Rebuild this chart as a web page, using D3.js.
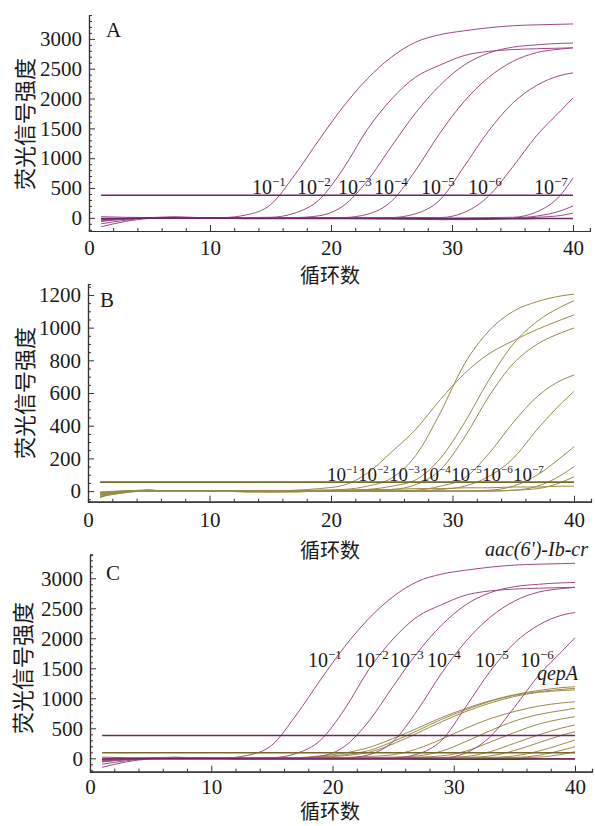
<!DOCTYPE html>
<html><head><meta charset="utf-8">
<script src="https://cdn.jsdelivr.net/npm/d3@7"></script>
<style>body{margin:0;background:#fff}svg{display:block}</style>
</head><body>
<svg id="chart" width="595" height="826"></svg>
<script>
// ---------- DATA ----------
const cycles = [1,3,5,7,9,11,13,15,17,19,21,23,25,27,29,31,33,35,37,39,40];
const xMajorTicks = [0,10,20,30,40];
const xMinorTicks = [2,4,6,8,12,14,16,18,22,24,26,28,32,34,36,38];
const yTicksAC = [0,500,1000,1500,2000,2500,3000];
const yTicksB = [0,200,400,600,800,1000,1200];
const labelsA = ["1","2","3","4","5","6","7"];
const labelsB = ["1","2","3","4","5","6","7"];
const labelsC = ["1","2","3","4","5","6"];
const yTitle = "荧光信号强度";
const xTitle = "循环数";
const geneC1 = "aac(6')-Ib-cr";
const geneC2 = "qepA";

// purple (aac(6')-Ib-cr) curves, dilutions 10^-1 .. 10^-7
const purple1 = [-30,-10,0,5,5,5,50,220,720,1305,1860,2330,2695,2945,3070,3135,3185,3220,3235,3245,3250];
const purple2 = [-60,-20,0,0,0,0,5,10,80,300,820,1480,1990,2360,2560,2720,2790,2820,2835,2845,2850];
const purple3 = [-100,-40,-5,0,0,0,0,0,5,35,200,620,1200,1760,2220,2560,2760,2860,2900,2925,2930];
const purple4 = [-150,-60,-10,0,0,0,0,0,0,0,5,60,280,800,1420,1950,2350,2620,2770,2830,2850];
const purple5 = [20,10,5,20,5,0,0,0,0,0,0,0,5,70,300,860,1450,1920,2220,2390,2430];
const purple6 = [-40,-20,0,0,0,0,0,0,0,0,0,0,0,5,5,90,360,850,1380,1800,2010];
const purple7 = [-20,-10,0,5,0,0,0,0,0,0,0,0,0,0,0,0,5,10,100,390,670];
const purpleLate1 = [-50,-20,0,0,0,0,0,0,0,-5,-10,-10,-10,-15,-20,-20,-15,0,30,120,200];
const purpleLate2 = [-30,-10,0,0,0,0,0,0,-5,-5,-10,-15,-20,-25,-30,-30,-25,-10,10,40,80];
const purpleBase = [-10,-10,-5,-5,-5,-5,-10,-10,-10,-10,-10,-10,-10,-10,-15,-15,-15,-15,-10,-10,-10];
const purpleThreshold = 380;

// olive curves, panel B
const oliveB1 = [-40,0,5,0,0,0,0,0,5,15,35,110,240,380,560,720,840,920,990,1050,1078];
const oliveB2 = [-30,-10,5,0,0,0,0,0,0,5,10,30,80,220,480,780,980,1100,1160,1195,1205];
const oliveB3 = [-20,-5,5,0,0,0,0,0,0,0,5,10,30,70,200,420,680,900,1040,1130,1165];
const oliveB4 = [-10,0,5,0,0,0,0,0,0,0,0,5,10,40,130,330,580,780,900,970,998];
const oliveB5 = [-25,-5,5,0,0,0,-5,-5,0,0,0,0,0,5,30,80,230,420,580,680,710];
const oliveB6 = [-15,0,5,0,0,0,0,-5,-5,0,0,0,0,0,10,30,90,200,380,540,610];
const oliveB7 = [-35,-10,0,0,0,0,-5,-5,-5,0,0,0,0,0,0,0,5,30,100,210,271];
const oliveB8 = [-20,-5,0,0,0,0,0,0,0,0,0,0,0,0,0,0,0,5,30,100,150];
const oliveB9 = [-10,0,0,0,0,0,0,0,0,0,0,0,0,0,0,0,0,5,15,55,88];
const oliveB10 = [-5,0,0,0,0,0,0,0,0,5,5,10,10,15,15,20,20,25,25,30,30];
const oliveThresholdB = 55;

// olive (qepA) curves, panel C
const oliveC1 = [-40,-10,0,0,0,0,0,5,10,40,90,180,330,500,680,830,960,1060,1130,1180,1193];
const oliveC2 = [-60,-20,0,0,0,0,0,0,5,25,60,130,280,460,650,810,950,1050,1110,1150,1167];
const oliveC3 = [-20,-5,0,0,0,0,0,0,5,20,45,100,240,420,610,780,920,1030,1100,1130,1140];
const oliveC4 = [-30,-10,0,0,0,0,0,0,0,5,15,30,60,160,320,500,660,780,870,925,943];
const oliveC5 = [-10,0,0,0,0,0,0,0,0,0,5,10,20,40,120,280,460,620,730,800,833];
const oliveC6 = [-50,-15,0,0,0,0,0,0,0,0,0,5,10,20,40,120,270,430,570,660,693];
const oliveC7 = [-20,-5,0,0,0,0,0,0,0,0,0,0,5,10,15,30,110,250,390,510,555];
const oliveC8 = [-30,-10,0,0,0,0,0,0,0,0,0,0,0,5,10,15,40,130,260,390,443];
const oliveC9 = [-15,0,0,0,0,0,0,0,0,0,0,0,0,0,5,10,15,40,120,240,305];
const oliveC10 = [-25,-5,0,0,0,0,0,0,0,0,0,0,0,0,0,5,10,15,50,140,193];
const oliveC11 = [-10,0,0,0,0,0,0,0,0,0,0,0,0,0,0,0,5,10,20,70,110];
const oliveBaseC = [-20,-15,-10,-10,-10,-10,-10,-10,-10,-10,-10,-10,-10,-15,-15,-15,-10,-10,-10,-10,-10];
const oliveThresholdC = 93;

// ---------- DRAW ----------
const svg = d3.select("#chart");
const SERIF = "'Liberation Serif','Times New Roman',serif";
const CJK = "'Noto Sans CJK SC','Noto Sans',sans-serif";
const PURPLE = "#9c4a86", PURPLE_DARK = "#6e2462";
const OLIVE = "#9a8a48", OLIVE_DARK = "#766a26";

function panel(o) {
  const g = svg.append("g");
  const x = d3.scaleLinear().domain([0, 41.4]).range([o.x0, o.x0 + 41.4 * o.px]);
  const y = d3.scaleLinear().domain(o.yDomain).range([o.yBottom, o.yTop]);
  const line = d3.line().x((d, i) => x(cycles[i])).y(d => y(d)).curve(d3.curveMonotoneX);
  const hline = v => d3.line().x(d => x(d)).y(() => y(v))([1, 40]);

  o.series.forEach(s => {
    s.data.forEach(c => {
      g.append("path").attr("d", line(c)).attr("fill", "none")
        .attr("stroke", s.color).attr("stroke-width", s.width || 1);
    });
  });
  o.thresholds.forEach(t => {
    g.append("path").attr("d", hline(t.v)).attr("fill", "none")
      .attr("stroke", t.color).attr("stroke-width", 1.6);
  });

  const ax = g.append("g").attr("transform", `translate(0,${o.yBottom})`).attr("color", "#333");
  ax.call(d3.axisBottom(x).tickValues(xMinorTicks).tickSize(-3).tickFormat(""));
  ax.append("g").call(d3.axisBottom(x).tickValues(xMajorTicks).tickSizeInner(-6).tickSizeOuter(0).tickPadding(o.xPad).tickFormat(d3.format("d")));
  ax.selectAll("text").attr("font-family", SERIF).attr("font-size", 21).attr("fill", "#1a1a1a");

  const ay = g.append("g").attr("transform", `translate(${o.x0},0)`).attr("color", "#333");
  ay.call(d3.axisLeft(y).tickValues(o.yMinor).tickSize(-3).tickFormat(""));
  ay.append("g").call(d3.axisLeft(y).tickValues(o.yTicks).tickSizeInner(-6).tickSizeOuter(0).tickPadding(7).tickFormat(d3.format("d")));
  ay.selectAll("text").attr("font-family", SERIF).attr("font-size", 21).attr("fill", "#1a1a1a");
  g.selectAll(".domain").attr("stroke-width", 1.2);

  g.append("text").attr("transform", `translate(${o.yTitleX},${o.yTitleY}) rotate(-90)`)
    .attr("text-anchor", "middle").attr("dominant-baseline", "central")
    .attr("font-family", CJK).attr("font-size", 22).attr("fill", "#1a1a1a").text(yTitle);
  g.append("text").attr("x", 330).attr("y", o.xTitleY).attr("text-anchor", "middle")
    .attr("dominant-baseline", "central")
    .attr("font-family", CJK).attr("font-size", 20).attr("fill", "#1a1a1a").text(xTitle);
  g.append("text").attr("x", o.letterX).attr("y", o.letterY).attr("font-family", SERIF)
    .attr("font-size", 21).attr("fill", "#1a1a1a").text(o.letter);

  o.labels.forEach((lab, i) => {
    const t = g.append("text").attr("x", o.labelX[i]).attr("y", o.labelY)
      .attr("font-family", SERIF).attr("font-size", o.labelSize || 20).attr("fill", "#1a1a1a");
    t.append("tspan").text("10");
    t.append("tspan").attr("dy", -8).attr("font-size", o.supSize || 13).text("\u2212" + lab);
  });
  return {g, x, y};
}

const yMinorAC = d3.range(-200, 3401, 100).filter(v => v % 500 !== 0);
const yMinorB = d3.range(-50, 1251, 50).filter(v => v % 200 !== 0);

panel({
  x0: 89, px: 12.1, yDomain: [-220, 3400], yBottom: 231, yTop: 15,
  yTicks: yTicksAC, yMinor: yMinorAC, xPad: 9,
  series: [{color: PURPLE, data: [purple1, purple2, purple3, purple4, purple5, purple6, purple7, purpleLate1, purpleLate2]},
           {color: PURPLE_DARK, width: 1.6, data: [purpleBase]}],
  thresholds: [{v: purpleThreshold, color: PURPLE_DARK}],
  yTitleX: 23, yTitleY: 124, xTitleY: 274, letter: "A", letterX: 106, letterY: 37,
  labels: labelsA, labelX: [252, 297, 338, 374, 421, 468, 534], labelY: 194
});

panel({
  x0: 88, px: 12.15, yDomain: [-65, 1267], yBottom: 501.7, yTop: 284,
  yTicks: yTicksB, yMinor: yMinorB, xPad: 10,
  series: [{color: OLIVE, data: [oliveB1, oliveB2, oliveB3, oliveB4, oliveB5, oliveB6, oliveB7, oliveB8, oliveB9, oliveB10]}],
  thresholds: [{v: oliveThresholdB, color: OLIVE_DARK}],
  yTitleX: 23, yTitleY: 393, xTitleY: 549, letter: "B", letterX: 100, letterY: 307,
  labels: labelsB, labelX: [327, 358, 389, 420, 451, 482, 513], labelY: 481, labelSize: 19, supSize: 11
});

const pc = panel({
  x0: 90, px: 12.125, yDomain: [-223, 3388], yBottom: 771.7, yTop: 555,
  yTicks: yTicksAC, yMinor: yMinorAC, xPad: 7,
  series: [{color: OLIVE, data: [oliveC1, oliveC2, oliveC3, oliveC4, oliveC5, oliveC6, oliveC7, oliveC8, oliveC9, oliveC10, oliveC11]},
           {color: OLIVE_DARK, width: 1.6, data: [oliveBaseC]},
           {color: PURPLE, data: [purple1, purple2, purple3, purple4, purple5, purple6]},
           {color: PURPLE_DARK, width: 1.4, data: [purpleBase]}],
  thresholds: [{v: purpleThreshold, color: PURPLE_DARK}, {v: oliveThresholdC, color: OLIVE_DARK}],
  yTitleX: 21, yTitleY: 668, xTitleY: 810, letter: "C", letterX: 106, letterY: 580,
  labels: labelsC, labelX: [308, 355, 390, 427, 475, 520], labelY: 667
});
pc.g.append("text").attr("x", 588).attr("y", 556).attr("text-anchor", "end")
  .attr("font-family", SERIF).attr("font-style", "italic").attr("font-size", 20)
  .attr("fill", "#1a1a1a").text(geneC1);
pc.g.append("text").attr("x", 578).attr("y", 680).attr("text-anchor", "end")
  .attr("font-family", SERIF).attr("font-style", "italic").attr("font-size", 20)
  .attr("fill", "#1a1a1a").text(geneC2);
</script>
</body></html>
